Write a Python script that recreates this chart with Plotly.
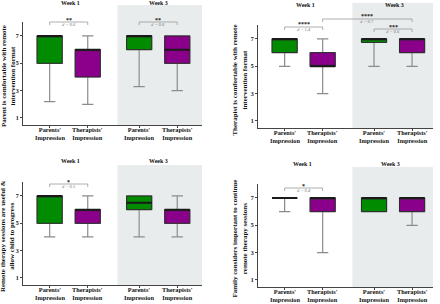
import plotly.graph_objects as go

# ---------------- data ----------------
categories = ["Parents'<br>Impression", "Therapists'<br>Impression",
              "Parents'<br>Impression", "Therapists'<br>Impression"]
groups = ["Parents", "Therapists", "Parents", "Therapists"]
weeks = ["Week 1", "Week 3"]
y_ticks = [1, 3, 5, 7]

titles = [
    "Parent is comfortable with remote<br>intervention format",
    "Therapist is comfortable with remote<br>intervention format",
    "Remote therapy sessions are useful &<br>allow child to progress",
    "Family considers important to continue<br>remote therapy sessions",
]

# Panel 1: Parent is comfortable
p1_q1 = [5, 4, 6, 5]
p1_med = [7, 6, 7, 6]
p1_q3 = [7, 6, 7, 7]
p1_lo = [2.2, 2, 3.3, 3]
p1_hi = [7, 7, 7, 7]
p1_pairs = [(0, 1), (2, 3)]
p1_stars = ["**", "**"]
p1_d = ["0.6", "0.6"]

# Panel 2: Therapist is comfortable
p2_q1 = [6, 5, 6.75, 6]
p2_med = [7, 5, 7, 7]
p2_q3 = [7, 6, 7, 7]
p2_lo = [5, 3, 5, 5]
p2_hi = [7, 7, 7, 7]
p2_pairs = [(0, 1), (1, 3), (2, 3)]
p2_stars = ["****", "****", "***"]
p2_d = ["1.4", "0.7", "0.6"]

# Panel 3: Remote sessions useful
p3_q1 = [5, 5, 6, 5]
p3_med = [7, 6, 6.5, 6]
p3_q3 = [7, 6, 7, 6]
p3_lo = [4, 4, 4, 4]
p3_hi = [7, 7, 7, 7]
p3_pairs = [(0, 1)]
p3_stars = ["*"]
p3_d = ["0.5"]

# Panel 4: Family considers important to continue
p4_q1 = [7, 6, 6, 6]
p4_med = [7, 7, 7, 7]
p4_q3 = [7, 7, 7, 7]
p4_lo = [6, 3, 6, 5]
p4_hi = [7, 7, 7, 7]
p4_pairs = [(0, 1)]
p4_stars = ["*"]
p4_d = ["0.4"]

panels = [
    dict(q1=p1_q1, med=p1_med, q3=p1_q3, lo=p1_lo, hi=p1_hi, pairs=p1_pairs, stars=p1_stars, d=p1_d),
    dict(q1=p2_q1, med=p2_med, q3=p2_q3, lo=p2_lo, hi=p2_hi, pairs=p2_pairs, stars=p2_stars, d=p2_d),
    dict(q1=p3_q1, med=p3_med, q3=p3_q3, lo=p3_lo, hi=p3_hi, pairs=p3_pairs, stars=p3_stars, d=p3_d),
    dict(q1=p4_q1, med=p4_med, q3=p4_q3, lo=p4_lo, hi=p4_hi, pairs=p4_pairs, stars=p4_stars, d=p4_d),
]

# ---------------- layout helpers ----------------
W, H = 440, 304
FONT = "Liberation Serif"
GREEN = "#008B00"
PURPLE = "#8B008B"
fills = {"Parents": GREEN, "Therapists": PURPLE}
BOXLINE = "#2b2b2b"
WHISK = "#8c8c8c"
SHADE = "#E8ECED"
BW = 0.66

pos = [1, 2, 3.35, 4.35]
shade_start = 2.78


def px_x(p):
    return p / W


def px_y(p):
    return 1 - p / H


# per panel geometry in pixels
geo = [
    dict(x0=23, x1=202, xr=[0.3, 5.0], yt=22.3, yb=124.8, sh=(5, 125), wk_y=3, wk_x=(70, 158), tx=8.5,
         sig_y=[22, 22]),
    dict(x0=258, x1=433, xr=[0.3, 4.9], yt=25.3, yb=127.8, sh=(3, 128), wk_y=5, wk_x=(305, 394), tx=240,
         sig_y=[27, 19, 29]),
    dict(x0=23, x1=202, xr=[0.3, 5.0], yt=182.3, yb=284.8, sh=(165, 285), wk_y=161, wk_x=(70, 158), tx=7.5,
         sig_y=[184]),
    dict(x0=258, x1=433, xr=[0.3, 4.9], yt=184.3, yb=286.8, sh=(167, 287), wk_y=164, wk_x=(302, 390), tx=240,
         sig_y=[188]),
]

fig = go.Figure()
shapes = []
annotations = []
layout_axes = {}

for k, d in enumerate(panels):
    g = geo[k]
    sfx = "" if k == 0 else str(k + 1)
    xa, ya = "x" + sfx, "y" + sfx

    # boxes
    for i in range(4):
        col = fills[groups[i]]
        # whiskers (grey)
        fig.add_trace(go.Box(
            x=[pos[i]], q1=[d["q1"][i]], median=[d["med"][i]], q3=[d["q3"][i]],
            lowerfence=[d["lo"][i]], upperfence=[d["hi"][i]],
            width=BW, whiskerwidth=0.45, boxpoints=False,
            line=dict(color=WHISK, width=1.2), fillcolor="rgba(0,0,0,0)",
            xaxis=xa, yaxis=ya, showlegend=False, hoverinfo="skip"))
        # filled box (dark outline)
        fig.add_trace(go.Box(
            x=[pos[i]], q1=[d["q1"][i]], median=[d["med"][i]], q3=[d["q3"][i]],
            lowerfence=[d["q1"][i]], upperfence=[d["q3"][i]],
            width=BW, whiskerwidth=0, boxpoints=False,
            line=dict(color=BOXLINE, width=1), fillcolor=col,
            xaxis=xa, yaxis=ya, showlegend=False, hoverinfo="skip"))
    # thick medians
    mx, my = [], []
    for i in range(4):
        mx += [pos[i] - BW / 2, pos[i] + BW / 2, None]
        my += [d["med"][i], d["med"][i], None]
    fig.add_trace(go.Scatter(x=mx, y=my, mode="lines", line=dict(color="#1a1a1a", width=2),
                             xaxis=xa, yaxis=ya, showlegend=False, hoverinfo="skip"))

    # axes
    layout_axes["xaxis" + sfx] = dict(
        domain=[px_x(g["x0"]), px_x(g["x1"])], range=g["xr"], anchor=ya,
        tickvals=pos, showticklabels=False,
        showline=True, linecolor="#444", linewidth=1, ticks="outside", ticklen=2,
        tickcolor="#444", showgrid=False, zeroline=False, fixedrange=True)
    layout_axes["yaxis" + sfx] = dict(
        domain=[px_y(g["yb"]), px_y(g["yt"])], range=[0.5, 8.0], anchor=xa,
        tickvals=y_ticks, ticktext=["<b>%d</b>" % v for v in y_ticks],
        tickfont=dict(family=FONT, size=6, color="#111"),
        showline=True, linecolor="#444", linewidth=1, ticks="outside", ticklen=2,
        tickcolor="#444", showgrid=False, zeroline=False, fixedrange=True)

    # category labels (as text under the axis)
    for i, c in enumerate(categories):
        annotations.append(dict(text="<b>" + c + "</b>", xref=xa, yref="paper",
                                x=pos[i], y=px_y(g["yb"] + 0.5), showarrow=False,
                                xanchor="center", yanchor="top", borderpad=0,
                                font=dict(family=FONT, size=6.3, color="#111")))

    # week-3 shading
    shapes.append(dict(type="rect", xref=xa, yref="paper", x0=shade_start, x1=g["xr"][1],
                       y0=px_y(g["sh"][1]), y1=px_y(g["sh"][0]),
                       fillcolor=SHADE, line=dict(width=0), layer="below"))

    # week labels
    for wname, wx in zip(weeks, g["wk_x"]):
        annotations.append(dict(text="<b>" + wname + "</b>", xref="paper", yref="paper",
                                x=px_x(wx), y=px_y(g["wk_y"]), showarrow=False,
                                xanchor="center", yanchor="middle",
                                font=dict(family=FONT, size=6, color="#111")))

    # y title
    annotations.append(dict(text="<b>" + titles[k] + "</b>", xref="paper", yref="paper",
                            x=px_x(g["tx"]), y=px_y((g["yt"] + g["yb"]) / 2 + 3),
                            textangle=-90, showarrow=False, xanchor="center", yanchor="middle",
                            borderpad=0,
                            font=dict(family=FONT, size=7, color="#111")))

    # significance brackets
    for (a, b), st, dv, yl in zip(d["pairs"], d["stars"], d["d"], g["sig_y"]):
        xa0, xa1 = pos[a], pos[b]
        shapes.append(dict(type="line", xref=xa, yref="paper", x0=xa0, x1=xa1,
                           y0=px_y(yl), y1=px_y(yl), line=dict(color="#9a9a9a", width=0.8)))
        for xe in (xa0, xa1):
            shapes.append(dict(type="line", xref=xa, yref="paper", x0=xe, x1=xe,
                               y0=px_y(yl), y1=px_y(yl + 3), line=dict(color="#9a9a9a", width=0.8)))
        annotations.append(dict(text="<b>" + st + "</b>", xref=xa, yref="paper",
                                x=(xa0 + xa1) / 2, y=px_y(yl - 2.5), showarrow=False,
                                xanchor="center", yanchor="middle",
                                font=dict(family=FONT, size=6, color="#222")))
        annotations.append(dict(text="<i>d</i> <i>= " + dv + "</i>", xref=xa, yref="paper",
                                x=(xa0 + xa1) / 2, y=px_y(yl + 2.6), showarrow=False,
                                xanchor="center", yanchor="middle",
                                font=dict(family=FONT, size=4.5, color="#777")))

fig.update_layout(
    width=W, height=H, margin=dict(l=0, r=0, t=0, b=0),
    paper_bgcolor="white", plot_bgcolor="rgba(0,0,0,0)",
    boxmode="overlay", showlegend=False,
    shapes=shapes, annotations=annotations,
    **layout_axes,
)

fig.write_html("out.html", config={"displayModeBar": False},
               post_script="document.body.style.margin='0px';")
